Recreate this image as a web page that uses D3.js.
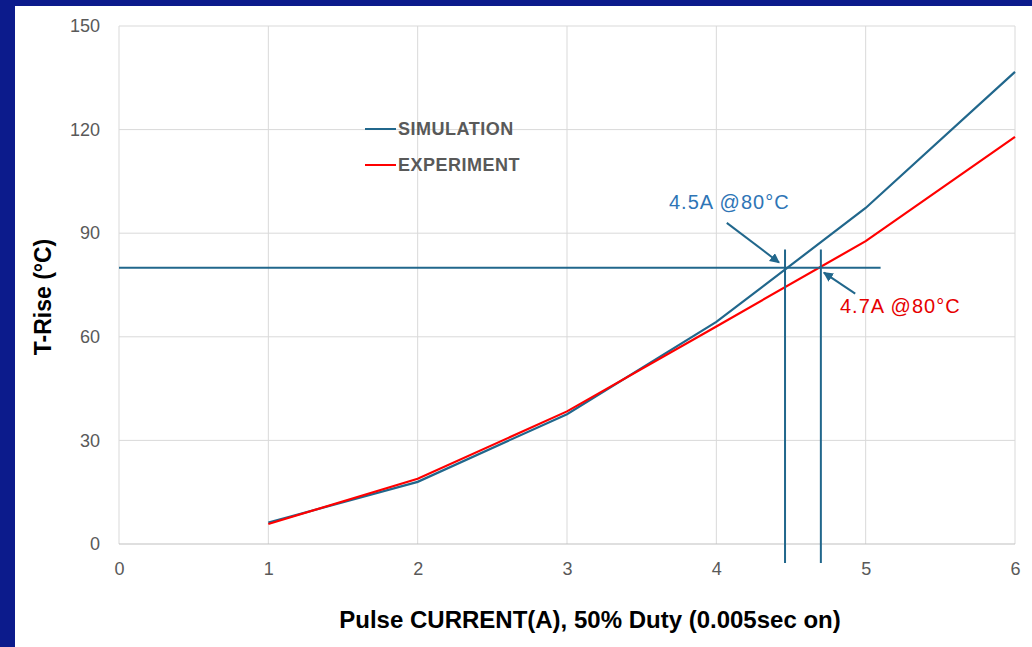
<!DOCTYPE html>
<meta charset="utf-8">
<style>
body { margin: 0; background: #fff; }
svg { display: block; font-family: "Liberation Sans", Arial, Helvetica, sans-serif; }
.tick text { fill: #595959; font-size: 18px; }
.legend text { fill: #595959; font-size: 18px; font-weight: bold; letter-spacing: 0.5px; }
.title { font-weight: bold; font-size: 23px; fill: #000; }
</style>
<svg width="1032" height="647"></svg>
<script src="https://d3js.org/d3.v7.min.js"></script>
<script>

// pulse current (A)
var current = [1, 2, 3, 4, 5, 6];
// temperature rise (°C)
var simulation = [6.2, 18, 37.6, 64.3, 97.3, 136.7];
var experiment = [5.8, 18.9, 38.4, 63, 87.7, 117.9];

var xTicks = [0, 1, 2, 3, 4, 5, 6];
var yTicks = [0, 30, 60, 90, 120, 150];

var limit = 80;            // °C threshold
var simCross = 4.46, expCross = 4.7;

var simColor = "#21678c",
    expColor = "#ff0000";

var svg = d3.select("svg"),
    width = +svg.attr("width"),
    height = +svg.attr("height"),
    margin = {top: 26, right: 17, bottom: 103, left: 119};

// navy frame on top and left
svg.append("rect").attr("width", width).attr("height", height).attr("fill", "#0c1b8c");
svg.append("rect").attr("x", 15).attr("y", 6).attr("width", width - 15).attr("height", height - 6).attr("fill", "#fff");

var x = d3.scaleLinear().domain([0, 6]).range([margin.left, width - margin.right]);
var y = d3.scaleLinear().domain([0, 150]).range([height - margin.bottom, margin.top]);

// grid
svg.append("g").selectAll("line").data(xTicks).enter().append("line")
    .attr("x1", d => x(d)).attr("x2", d => x(d))
    .attr("y1", y(0)).attr("y2", y(150))
    .attr("stroke", "#d9d9d9").attr("stroke-width", 1);
svg.append("g").selectAll("line").data(yTicks).enter().append("line")
    .attr("x1", x(0)).attr("x2", x(6))
    .attr("y1", d => y(d)).attr("y2", d => y(d))
    .attr("stroke", d => d === 0 ? "#bfbfbf" : "#d9d9d9").attr("stroke-width", 1);

// axes (labels only)
var xAxis = svg.append("g")
    .attr("transform", "translate(0," + y(0) + ")")
    .call(d3.axisBottom(x).tickValues(xTicks).tickSize(0).tickPadding(18).tickFormat(d3.format("d")));
xAxis.select(".domain").remove();

var yAxis = svg.append("g")
    .attr("transform", "translate(" + x(0) + ",0)")
    .call(d3.axisLeft(y).tickValues(yTicks).tickSize(0).tickPadding(19));
yAxis.select(".domain").remove();

// series
var line = d3.line()
    .x((d, i) => x(current[i]))
    .y(d => y(d));

svg.append("path").datum(simulation)
    .attr("fill", "none").attr("stroke", simColor).attr("stroke-width", 2.2)
    .attr("d", line);
svg.append("path").datum(experiment)
    .attr("fill", "none").attr("stroke", expColor).attr("stroke-width", 2.2)
    .attr("d", line);

// 80°C marker lines
svg.append("line")
    .attr("x1", x(0)).attr("x2", x(5.1))
    .attr("y1", y(limit)).attr("y2", y(limit))
    .attr("stroke", simColor).attr("stroke-width", 2);
[simCross, expCross].forEach(function(c) {
  svg.append("line")
      .attr("x1", x(c)).attr("x2", x(c))
      .attr("y1", y(85.3)).attr("y2", y(-5.5))
      .attr("stroke", simColor).attr("stroke-width", 2);
});

// arrows
var defs = svg.append("defs");
defs.append("marker")
    .attr("id", "arrow")
    .attr("viewBox", "0 0 10 10")
    .attr("refX", 9).attr("refY", 5)
    .attr("markerWidth", 5).attr("markerHeight", 5)
    .attr("orient", "auto")
  .append("path")
    .attr("d", "M0,0L10,5L0,10z")
    .attr("fill", simColor);

svg.append("line")
    .attr("x1", x(4.07)).attr("y1", y(93))
    .attr("x2", x(4.42)).attr("y2", y(81.5))
    .attr("stroke", simColor).attr("stroke-width", 2)
    .attr("marker-end", "url(#arrow)");
svg.append("line")
    .attr("x1", x(4.93)).attr("y1", y(72.5))
    .attr("x2", x(4.72)).attr("y2", y(78.6))
    .attr("stroke", simColor).attr("stroke-width", 2)
    .attr("marker-end", "url(#arrow)");

svg.append("text")
    .attr("x", 669).attr("y", 209)
    .attr("fill", "#2e75b6").attr("font-size", 20).attr("letter-spacing", 1)
    .text("4.5A @80°C");
svg.append("text")
    .attr("x", 840).attr("y", 313)
    .attr("fill", "#e60000").attr("font-size", 20).attr("letter-spacing", 1)
    .text("4.7A @80°C");

// legend
var legend = svg.append("g").attr("class", "legend");
[["SIMULATION", simColor], ["EXPERIMENT", expColor]].forEach(function(d, i) {
  var ly = 129 + i * 36;
  legend.append("line")
      .attr("x1", 365).attr("x2", 396).attr("y1", ly).attr("y2", ly)
      .attr("stroke", d[1]).attr("stroke-width", 2);
  legend.append("text")
      .attr("x", 398).attr("y", ly + 6)
      .text(d[0]);
});

// axis titles
svg.append("text").attr("class", "title")
    .attr("x", 590).attr("y", 628)
    .attr("text-anchor", "middle")
    .attr("font-size", 24).style("font-size", "24px")
    .text("Pulse CURRENT(A), 50% Duty (0.005sec on)");
svg.append("text").attr("class", "title")
    .attr("transform", "translate(51,297) rotate(-90)")
    .attr("text-anchor", "middle")
    .text("T-Rise (°C)");

</script>
